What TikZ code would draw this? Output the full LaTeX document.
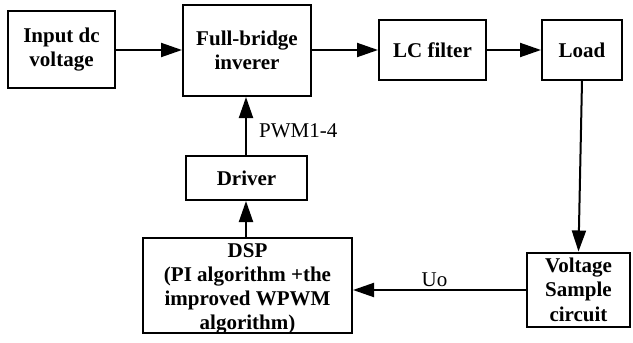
\documentclass[tikz,border=0pt]{standalone}
\usepackage{fontspec}
\setmainfont{Liberation Serif}
\usetikzlibrary{arrows.meta}
\begin{document}
\begin{tikzpicture}[x=1pt,y=-1pt,
  blk/.style={draw,line width=2pt,align=center,inner sep=0pt,
    font=\fontsize{21}{24.5}\selectfont\bfseries},
  txt/.style={align=center,inner sep=0pt,
    font=\fontsize{21}{24}\selectfont\bfseries},
  lbl/.style={inner sep=0pt,font=\fontsize{21}{24}\selectfont},
  flow/.style={line width=2pt,-{Triangle[length=21pt,width=14pt]}}]
\useasboundingbox (0,0) rectangle (633,343);
% blocks (centre, width, height)
\node[blk,minimum width=107pt,minimum height=77pt] (in)   at (61.5,49.5) {Input dc\\voltage};
\node[blk,minimum width=128pt,minimum height=91pt] (fb)   at (247,50.5) {Full-bridge\\inverer};
\node[blk,minimum width=107pt,minimum height=60pt] (lc)   at (432.5,50) {LC filter};
\node[blk,minimum width=80pt,minimum height=60pt]  (load) at (582,50) {Load};
\node[blk,minimum width=121pt,minimum height=44pt] (drv)  at (246.5,178) {Driver};
\node[blk,minimum width=209pt,minimum height=95pt] (dsp)  at (247.5,285.5) {};
\node[txt] (dspt) at ([yshift=-3pt]dsp.center) {DSP\\(PI algorithm +the\\improved WPWM\\algorithm)};
\node[blk,minimum width=103pt,minimum height=74pt] (vs)   at (578.5,289.5) {Voltage\\Sample\\circuit};
% signal path
\draw[flow] (in.east |- 0,50) -- (fb.west |- 0,50);
\draw[flow] (fb.east |- 0,50) -- (lc.west |- 0,50);
\draw[flow] (lc.east) -- (load.west);
\draw[flow] (load.south) -- (vs.north);
\draw[flow] (vs.west |- 0,290) -- (dsp.east |- 0,290);
\draw[flow] (dsp.north -| 246,0) -- (drv.south -| 246,0);
\draw[flow] (drv.north -| 246,0) -- (fb.south -| 246,0);
% signal labels
\node[lbl,anchor=west] (pwm) at (259,131) {PWM1-4};
\node[lbl,anchor=base] (uo) at (434.5,286.5) {Uo};
\end{tikzpicture}
\end{document}
